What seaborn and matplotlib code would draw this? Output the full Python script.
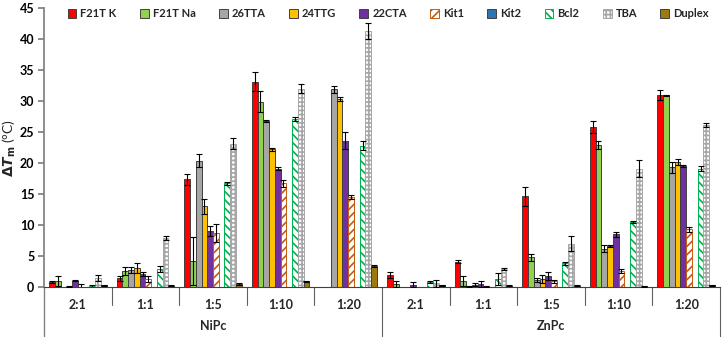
import numpy as np
import pandas as pd
import matplotlib
matplotlib.use("Agg")
import matplotlib.pyplot as plt
import seaborn as sns

# categories
ratios = ["2:1", "1:1", "1:5", "1:10", "1:20"]
metals = ["NiPc", "ZnPc"]
ligands = ["F21T K", "F21T Na", "26TTA", "24TTG", "22CTA", "Kit1", "Kit2", "Bcl2", "TBA", "Duplex"]

# dTm values, NiPc 2:1..1:20 then ZnPc 2:1..1:20
f21t_k = [0.8, 1.4, 17.4, 33.1, 0.0, 2.0, 4.1, 14.6, 25.8, 30.9]
f21t_na = [1.0, 2.6, 4.2, 29.9, 0.0, 0.5, 1.0, 4.8, 22.9, 30.9]
tta26 = [0.0, 2.8, 20.4, 26.8, 31.9, 0.0, 0.1, 1.1, 6.2, 19.3]
ttg24 = [0.05, 3.1, 13.0, 22.2, 30.3, 0.0, 0.4, 1.3, 6.6, 20.2]
cta22 = [1.0, 2.1, 9.0, 19.1, 23.6, 0.4, 0.5, 1.8, 8.5, 19.5]
kit1 = [0.0, 1.3, 8.7, 16.7, 14.5, 0.0, 0.1, 0.9, 2.6, 9.3]
kit2 = [0.0, 0.0, 0.0, 0.0, 0.0, 0.0, 0.0, 0.0, 0.0, 0.0]
bcl2 = [0.1, 2.9, 16.7, 27.1, 22.8, 0.8, 1.3, 3.8, 10.5, 19.1]
tba = [1.5, 7.9, 23.1, 32.0, 41.3, 0.6, 2.9, 7.0, 19.1, 26.1]
duplex = [0.3, 0.2, 0.5, 0.9, 3.4, 0.3, 0.2, 0.2, 0.1, 0.3]

# error bars
f21t_k_err = [0.2, 0.4, 0.9, 1.5, 0.0, 0.5, 0.2, 1.5, 1.0, 0.8]
f21t_na_err = [0.8, 0.7, 3.8, 1.7, 0.0, 0.5, 0.8, 0.6, 0.6, 0.1]
tta26_err = [0.0, 0.5, 1.0, 0.2, 0.6, 0.0, 0.1, 0.3, 0.6, 0.9]
ttg24_err = [0.1, 0.8, 1.2, 0.2, 0.3, 0.0, 0.3, 0.7, 0.2, 0.5]
cta22_err = [0.1, 0.4, 0.8, 0.3, 1.4, 0.4, 0.5, 0.6, 0.4, 0.2]
kit1_err = [0.5, 0.5, 1.4, 0.5, 0.3, 0.0, 0.1, 0.2, 0.3, 0.4]
kit2_err = [0.0] * 10
bcl2_err = [0.3, 0.5, 0.2, 0.3, 0.7, 0.2, 1.0, 0.2, 0.2, 0.4]
tba_err = [0.5, 0.3, 0.9, 0.7, 1.3, 0.6, 0.2, 1.2, 1.4, 0.3]
duplex_err = [0.1, 0.1, 0.1, 0.1, 0.2, 0.1, 0.1, 0.1, 0.1, 0.1]

values = [f21t_k, f21t_na, tta26, ttg24, cta22, kit1, kit2, bcl2, tba, duplex]
errors = [f21t_k_err, f21t_na_err, tta26_err, ttg24_err, cta22_err,
          kit1_err, kit2_err, bcl2_err, tba_err, duplex_err]

# styles: facecolor, edgecolor, hatch
styles = {
    "F21T K": ("#FF0000", "#404040", None),
    "F21T Na": ("#92D050", "#404040", None),
    "26TTA": ("#A6A6A6", "#404040", None),
    "24TTG": ("#FFC000", "#404040", None),
    "22CTA": ("#7030A0", "#404040", None),
    "Kit1": ("white", "#C55A11", "////"),
    "Kit2": ("#2E75B6", "#404040", None),
    "Bcl2": ("white", "#00B050", "\\\\\\\\"),
    "TBA": ("white", "#A6A6A6", "++++"),
    "Duplex": ("#9C7A0E", "#404040", None),
}

cats = [f"{m} {r}" for m in metals for r in ratios]
rows = []
for lig, vals in zip(ligands, values):
    for c, v in zip(cats, vals):
        rows.append({"cat": c, "ligand": lig, "dTm": v})
df = pd.DataFrame(rows)

sns.set_theme(style="white")
plt.rcParams["font.family"] = ["Lato", "DejaVu Sans"]
plt.rcParams["font.weight"] = "bold"
plt.rcParams["hatch.linewidth"] = 1.2

fig = plt.figure(figsize=(7.22, 3.37), dpi=100)
ax = fig.add_axes([44 / 722, 50 / 337, 676 / 722, 279 / 337])

sns.barplot(data=df, x="cat", y="dTm", hue="ligand", order=cats, hue_order=ligands,
            width=0.85, gap=0, ax=ax, legend=False, errorbar=None)

for cont, lig, errs in zip(ax.containers, ligands, errors):
    fc, ec, hatch = styles[lig]
    for bar, e in zip(cont, errs):
        bar.set_facecolor(fc)
        bar.set_edgecolor(ec)
        bar.set_linewidth(0.7)
        if hatch:
            bar.set_hatch(hatch)
        if e > 0:
            ax.errorbar(bar.get_x() + bar.get_width() / 2, bar.get_height(), yerr=e,
                        color="black", lw=0.8, capsize=2, capthick=0.8, zorder=5)

handles = [plt.Rectangle((0, 0), 1, 1, facecolor=styles[l][0], edgecolor=styles[l][1],
                         hatch=styles[l][2], lw=0.7) for l in ligands]
ax.legend(handles, ligands, loc="upper center", bbox_to_anchor=(0.509, 1.035), ncol=10,
          frameon=False, handlelength=0.8, handleheight=0.8, handletextpad=0.35,
          columnspacing=2.1, prop={"size": 8, "weight": "bold"})

ax.set_ylim(0, 45)
ax.set_xlim(-0.5, 9.5)
ax.set_yticks(np.arange(0, 46, 5))
ax.tick_params(axis="y", labelsize=9, length=4, direction="out", left=True, colors="#808080",
               labelcolor="black", pad=3)
ax.set_xticks([])
ax.set_xlabel("")
ax.set_ylabel(r"$\Delta\mathit{T}_\mathrm{m}$ (°C)", fontsize=10, fontweight="normal")
ax.yaxis.set_label_coords(-26 / 676, 0.5)
for s in ["top", "right"]:
    ax.spines[s].set_visible(False)
ax.spines["left"].set_color("#808080")
ax.spines["bottom"].set_color("#404040")
ax.spines["bottom"].set_linewidth(0.8)

# two-level category axis below the bars
trans = ax.get_xaxis_transform()
short = -18 / 279
full = -50 / 279
ax.plot([-0.5, -0.5], [0, full], transform=trans, color="#808080", lw=1, clip_on=False)
for k in range(10):
    right = k + 0.5
    low = full if right in (4.5, 9.5) else short
    ax.plot([right, right], [0, low], transform=trans, color="#606060", lw=0.8, clip_on=False)
    ax.text(k, -18 / 279, ratios[k % 5], transform=trans, ha="center", va="center",
            fontsize=9, fontweight="bold")
for i, m in enumerate(metals):
    ax.text(2 + 5 * i, -39 / 279, m, transform=trans, ha="center", va="center",
            fontsize=9, fontweight="bold")

fig.savefig("out.png", dpi=100)
